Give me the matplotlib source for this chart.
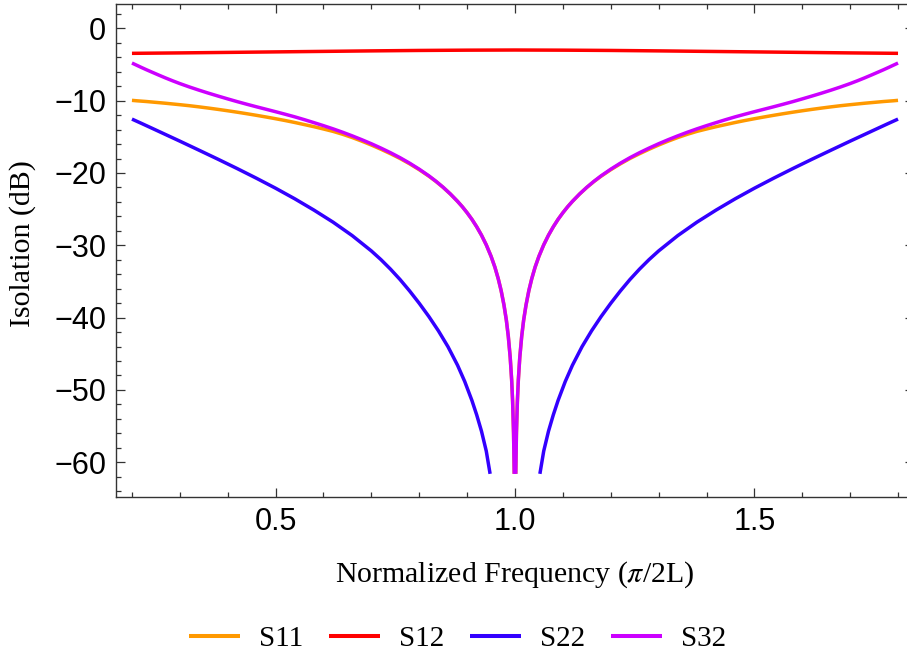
import matplotlib
matplotlib.use("Agg")
import matplotlib.pyplot as plt

# values (dB vs normalized frequency, pi/2L units)
x_s12 = [0.2, 0.3, 0.4, 0.5, 0.6, 0.7, 0.8, 0.9, 1.0,
         1.1, 1.2, 1.3, 1.4, 1.5, 1.6, 1.7, 1.8]
s12 = [-3.46, -3.40, -3.33, -3.26, -3.19, -3.12, -3.06, -3.02, -3.00,
       -3.02, -3.06, -3.12, -3.19, -3.26, -3.33, -3.40, -3.46]

# S11 / S32 share the same sample points, left and right of the notch at 1.0
x_left = [0.20, 0.21, 0.22, 0.23, 0.24, 0.255, 0.27, 0.285, 0.30,
          0.32, 0.34, 0.36, 0.38, 0.40, 0.42, 0.44, 0.46, 0.48, 0.50,
          0.52, 0.54, 0.56, 0.58, 0.60, 0.62, 0.64, 0.66, 0.68, 0.70,
          0.72, 0.74, 0.76, 0.78, 0.80, 0.82, 0.835, 0.85, 0.865, 0.88,
          0.89, 0.90, 0.91, 0.92, 0.93, 0.94, 0.95, 0.958, 0.965, 0.971,
          0.977, 0.982, 0.986, 0.990, 0.993, 0.995, 0.997, 0.9984]
x_right = [1.0016, 1.003, 1.005, 1.007, 1.010, 1.014, 1.018, 1.023, 1.029,
           1.035, 1.042, 1.05, 1.06, 1.07, 1.08, 1.09, 1.10, 1.11, 1.12,
           1.135, 1.15, 1.165, 1.18, 1.20, 1.22, 1.24, 1.26, 1.28, 1.30,
           1.32, 1.34, 1.36, 1.38, 1.40, 1.42, 1.44, 1.46, 1.48, 1.50,
           1.52, 1.54, 1.56, 1.58, 1.60, 1.62, 1.64, 1.66, 1.68, 1.70,
           1.715, 1.73, 1.745, 1.76, 1.77, 1.78, 1.79, 1.80]

s32_left = [-4.80, -5.11, -5.42, -5.72, -6.01, -6.44, -6.86, -7.26, -7.64,
            -8.11, -8.55, -8.97, -9.37, -9.76, -10.14, -10.50, -10.85, -11.19, -11.53,
            -11.88, -12.24, -12.63, -13.04, -13.46, -13.90, -14.37, -14.87, -15.40, -15.96,
            -16.56, -17.20, -17.89, -18.65, -19.48, -20.39, -21.15, -21.98, -22.90, -23.92,
            -24.67, -25.50, -26.41, -27.44, -28.60, -29.94, -31.52, -33.02, -34.62, -36.25,
            -38.27, -40.38, -42.58, -45.50, -48.60, -51.52, -55.96, -61.6]
s32_right = [-61.6, -55.96, -51.52, -48.60, -45.50, -42.58, -40.38, -38.27, -36.25,
             -34.62, -33.02, -31.52, -29.94, -28.60, -27.44, -26.41, -25.50, -24.67, -23.92,
             -22.90, -21.98, -21.15, -20.39, -19.48, -18.65, -17.89, -17.20, -16.56, -15.96,
             -15.40, -14.87, -14.37, -13.90, -13.46, -13.04, -12.63, -12.24, -11.88, -11.53,
             -11.19, -10.85, -10.50, -10.14, -9.76, -9.37, -8.97, -8.55, -8.11, -7.64,
             -7.26, -6.86, -6.44, -6.01, -5.72, -5.42, -5.11, -4.80]

s11_left = [-9.96, -10.02, -10.07, -10.12, -10.18, -10.27, -10.36, -10.46, -10.56,
            -10.70, -10.86, -11.03, -11.21, -11.40, -11.60, -11.81, -12.03, -12.26, -12.50,
            -12.75, -13.02, -13.31, -13.60, -13.92, -14.25, -14.65, -15.10, -15.60, -16.14,
            -16.72, -17.34, -18.00, -18.74, -19.55, -20.44, -21.18, -22.00, -22.91, -23.93,
            -24.67, -25.50, -26.41, -27.44, -28.60, -29.94, -31.52, -33.02, -34.62, -36.25,
            -38.27, -40.38, -42.58, -45.50, -48.60, -51.52, -55.96, -61.6]
s11_right = [-61.6, -55.96, -51.52, -48.60, -45.50, -42.58, -40.38, -38.27, -36.25,
             -34.62, -33.02, -31.52, -29.94, -28.60, -27.44, -26.41, -25.50, -24.67, -23.93,
             -22.91, -22.00, -21.18, -20.44, -19.55, -18.74, -18.00, -17.34, -16.72, -16.14,
             -15.60, -15.10, -14.65, -14.25, -13.92, -13.60, -13.31, -13.02, -12.75, -12.50,
             -12.26, -12.03, -11.81, -11.60, -11.40, -11.21, -11.03, -10.86, -10.70, -10.56,
             -10.46, -10.36, -10.27, -10.18, -10.12, -10.07, -10.02, -9.96]

x_s22_left = [0.20, 0.22, 0.24, 0.27, 0.30, 0.34, 0.38, 0.42, 0.46, 0.50,
              0.54, 0.58, 0.62, 0.66, 0.70, 0.72, 0.74, 0.76, 0.78, 0.80,
              0.82, 0.84, 0.86, 0.88, 0.895, 0.91, 0.92, 0.93, 0.94, 0.948]
x_s22_right = [1.052, 1.06, 1.07, 1.08, 1.09, 1.105, 1.12, 1.14, 1.16, 1.18,
               1.20, 1.22, 1.24, 1.26, 1.28, 1.30, 1.34, 1.38, 1.42, 1.46,
               1.50, 1.54, 1.58, 1.62, 1.66, 1.70, 1.73, 1.76, 1.78, 1.80]
s22_left = [-12.55, -13.15, -13.76, -14.68, -15.60, -16.85, -18.11, -19.40, -20.73, -22.11,
            -23.57, -25.13, -26.80, -28.66, -30.78, -31.98, -33.30, -34.74, -36.32, -38.02,
            -39.84, -41.82, -44.02, -46.58, -48.83, -51.45, -53.45, -55.70, -58.45, -61.6]
s22_right = [-61.6, -58.45, -55.70, -53.45, -51.45, -48.83, -46.58, -44.02, -41.82, -39.84,
             -38.02, -36.32, -34.74, -33.30, -31.98, -30.78, -28.66, -26.80, -25.13, -23.57,
             -22.11, -20.73, -19.40, -18.11, -16.85, -15.60, -14.68, -13.76, -13.15, -12.55]

colors = {"S11": "#FF9900", "S12": "#FF0000", "S22": "#3300FF", "S32": "#CC00FF"}
frame_color = "#333333"

plt.rcParams["mathtext.fontset"] = "stix"

fig = plt.figure(figsize=(9.07, 6.58), dpi=100)
# the right frame edge of the original sits just outside the picture
ax = fig.add_axes([0.1279, 0.2447, 0.8798, 0.7492])

line_kw = dict(lw=2.5, solid_capstyle="butt", solid_joinstyle="round")
ax.plot(x_left, s11_left, color=colors["S11"], label="S11", **line_kw)
ax.plot(x_right, s11_right, color=colors["S11"], **line_kw)
ax.plot(x_s12, s12, color=colors["S12"], label="S12", **line_kw)
ax.plot(x_s22_left, s22_left, color=colors["S22"], label="S22", **line_kw)
ax.plot(x_s22_right, s22_right, color=colors["S22"], **line_kw)
ax.plot(x_left, s32_left, color=colors["S32"], label="S32", **line_kw)
ax.plot(x_right, s32_right, color=colors["S32"], **line_kw)

ax.set_xlim(0.16667, 1.83333)
ax.set_ylim(-64.8, 3.36)

ax.set_xticks([0.5, 1.0, 1.5])
ax.set_xticklabels(["0.5", "1.0", "1.5"])
ax.set_xticks([0.2, 0.3, 0.4, 0.6, 0.7, 0.8, 0.9, 1.1, 1.2, 1.3, 1.4, 1.6, 1.7, 1.8], minor=True)
ax.set_yticks([0, -10, -20, -30, -40, -50, -60])
ax.set_yticks([v for v in range(2, -65, -2) if v % 10 != 0], minor=True)

for s in ax.spines.values():
    s.set_color(frame_color)
    s.set_linewidth(1.0)
ax.tick_params(which="both", direction="in", top=True, right=True, color=frame_color, width=0.9)
ax.tick_params(which="major", length=6.5, pad=7)
ax.tick_params(which="minor", length=3.6)
for lab in ax.get_xticklabels() + ax.get_yticklabels():
    lab.set_fontfamily("Liberation Sans")
    lab.set_fontsize(22)

ax.set_xlabel(r"Normalized Frequency ($\pi$/2L)", fontfamily="Liberation Serif", fontsize=21.5)
ax.set_ylabel("Isolation (dB)", fontfamily="Liberation Serif", fontsize=21.5)
ax.xaxis.set_label_coords(515 / 907, (658 - 575) / 658, transform=fig.transFigure)
ax.yaxis.set_label_coords(23 / 907, 1 - 244 / 658, transform=fig.transFigure)
ax.xaxis.label.set_va("center")
ax.yaxis.label.set_va("center")

leg = fig.legend(loc="center", bbox_to_anchor=(0.5045, 1 - 639 / 658), ncol=4, frameon=False,
                 prop={"family": "Liberation Serif", "size": 21},
                 handlelength=1.75, handletextpad=0.65, columnspacing=0.89)
for h in leg.get_lines():
    h.set_linewidth(2.9)

fig.savefig("out.png", dpi=100)
